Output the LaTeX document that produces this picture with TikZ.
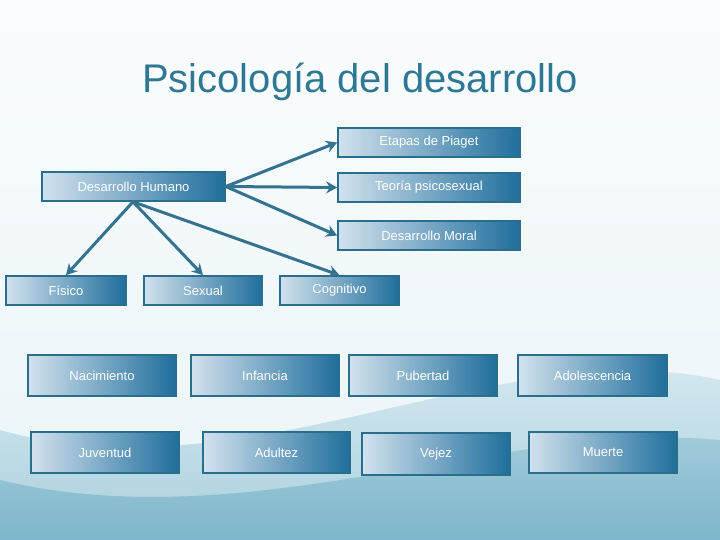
\documentclass[tikz,border=0pt]{standalone}
\usepackage{fontspec}
\setmainfont{Liberation Sans}
\usetikzlibrary{arrows.meta}
\begin{document}
\begin{tikzpicture}[x=1pt,y=-1pt,
  bx/.style={draw=bord,line width=1.6pt,left color=boxl,right color=boxr,text=white,font=\fontsize{13}{15}\selectfont},
  ar/.style={draw=arr,line width=3pt,-{Stealth[length=11pt,width=12pt]}}]
\definecolor{bord}{HTML}{2A6E8E}
\definecolor{boxl}{HTML}{D2E2EE}
\definecolor{boxr}{HTML}{1F6E9C}
\definecolor{arr}{HTML}{34738F}
\definecolor{ttl}{HTML}{2E7894}
\definecolor{bgtop}{HTML}{FAFDFE}
\definecolor{bgmid}{HTML}{EAF4F8}
\definecolor{w1a}{HTML}{DCEDF3}
\definecolor{w1b}{HTML}{A9D0DD}
\definecolor{w2a}{HTML}{A6CFDC}
\definecolor{w2b}{HTML}{7DB6CA}
\useasboundingbox (0,0) rectangle (720,540);
\shade[top color=bgtop,bottom color=bgmid] (0,0) rectangle (720,540);
\shade[top color=w1a, bottom color=w1b] (0,430) .. controls (250,500) and (500,330) .. (720,380) -- (720,540) -- (0,540) -- cycle;
\shade[top color=w2a, bottom color=w2b] (0,480) .. controls (250,540) and (500,420) .. (720,440) -- (720,540) -- (0,540) -- cycle;
\node[text=ttl,font=\fontsize{40}{46}\selectfont] (title) at (360,82) {Psicología del desarrollo};
\newcommand{\bxat}[6]{\node[bx,minimum width=#4-#2,minimum height=#5-#3,inner sep=0pt] (#1) at ({(#2+#4)/2},{(#3+#5)/2}) {#6};}
\bxat{pia}{338}{128}{520}{157}{Etapas de Piaget}
\bxat{hum}{42}{172}{225}{201}{Desarrollo Humano}
\bxat{teo}{338}{173}{520}{202}{Teoría psicosexual}
\bxat{mor}{338}{221}{520}{250}{Desarrollo Moral}
\bxat{fis}{6}{276}{126}{305}{Físico}
\bxat{sex}{144}{276}{262}{305}{Sexual}
\bxat{cog}{280}{276}{399}{305}{Cognitivo}
\bxat{nac}{28}{355}{176}{396}{Nacimiento}
\bxat{inf}{191}{355}{339}{396}{Infancia}
\bxat{pub}{349}{355}{497}{396}{Pubertad}
\bxat{ado}{518}{355}{667}{396}{Adolescencia}
\bxat{juv}{31}{432}{179}{473}{Juventud}
\bxat{adu}{203}{432}{350}{473}{Adultez}
\bxat{vej}{362}{433}{510}{475}{Vejez}
\bxat{mue}{529}{432}{677}{473}{Muerte}
\coordinate (hr) at (hum.east);
\coordinate (hb) at ([xshift=-0.5pt]hum.south);
\draw[ar] (hr) -- (pia.west);
\draw[ar] (hr) -- (teo.west);
\draw[ar] (hr) -- (mor.west);
\draw[ar] (hb) -- (fis.north);
\draw[ar] (hb) -- (sex.north);
\draw[ar] (hb) -- (cog.north);
\end{tikzpicture}
\end{document}
